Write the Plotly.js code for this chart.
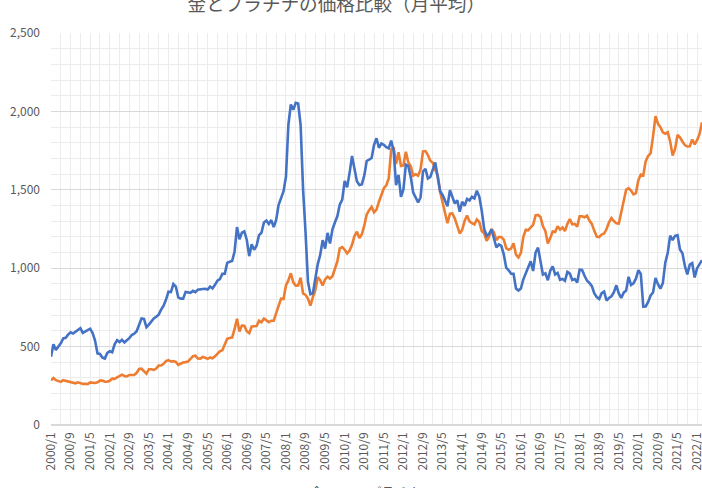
<!DOCTYPE html>
<html>
<head>
<meta charset="utf-8">
<script src="https://cdn.plot.ly/plotly-3.0.1.min.js"></script>
<style>
  html, body { margin: 0; padding: 0; background: #fff; }
  #chart { width: 702px; height: 488px; }
</style>
</head>
<body>
<div id="chart"></div>
<script>
/***** 金とプラチナの価格比較（月平均） *****/
var firstYear = 2000;
var monthCount = 267; // 2000/1 - 2022/3

var months = [];
for (var m = 0; m < monthCount; m++) {
  months.push((firstYear + Math.floor(m / 12)) + '/' + (m % 12 + 1));
}

// 金 (USD/oz)
var gold = [
  285, 300, 286, 280, 275, 286, 282, 275, 274, 270, 266, 272,        // 2000
  266, 262, 263, 261, 272, 270, 268, 272, 283, 283, 276, 276,        // 2001
  282, 296, 294, 303, 315, 321, 313, 310, 319, 317, 319, 333,        // 2002
  357, 359, 341, 328, 356, 356, 351, 360, 379, 379, 390, 408,        // 2003
  414, 405, 407, 403, 384, 392, 398, 401, 405, 421, 439, 442,        // 2004
  424, 423, 434, 429, 422, 431, 425, 438, 456, 470, 477, 510,        // 2005
  550, 555, 557, 611, 677, 596, 634, 633, 598, 586, 628, 630,        // 2006
  631, 665, 655, 679, 667, 656, 665, 665, 713, 755, 806, 803,        // 2007
  890, 922, 968, 910, 889, 890, 940, 839, 830, 807, 761, 816,        // 2008
  859, 943, 924, 890, 929, 946, 934, 949, 997, 1043, 1127, 1135,     // 2009
  1118, 1095, 1113, 1149, 1205, 1233, 1193, 1216, 1271, 1342, 1370, 1391, // 2010
  1356, 1373, 1424, 1474, 1510, 1529, 1573, 1756, 1772, 1665, 1739, 1652, // 2011
  1656, 1743, 1674, 1650, 1591, 1599, 1590, 1630, 1745, 1747, 1722, 1685, // 2012
  1672, 1628, 1593, 1488, 1414, 1343, 1287, 1347, 1349, 1317, 1276, 1222, // 2013
  1244, 1301, 1336, 1299, 1288, 1279, 1311, 1295, 1237, 1223, 1175, 1201, // 2014
  1251, 1227, 1179, 1199, 1199, 1182, 1128, 1118, 1125, 1159, 1086, 1068, // 2015
  1098, 1200, 1245, 1242, 1261, 1276, 1337, 1340, 1327, 1267, 1238, 1157, // 2016
  1192, 1234, 1231, 1267, 1246, 1260, 1237, 1283, 1314, 1280, 1282, 1265, // 2017
  1331, 1331, 1325, 1335, 1304, 1282, 1238, 1202, 1198, 1215, 1221, 1250, // 2018
  1292, 1320, 1301, 1286, 1284, 1359, 1413, 1500, 1511, 1495, 1471, 1479, // 2019
  1561, 1597, 1592, 1683, 1716, 1732, 1841, 1969, 1922, 1900, 1866, 1858, // 2020
  1867, 1808, 1718, 1760, 1850, 1835, 1808, 1785, 1776, 1777, 1821, 1790, // 2021
  1816, 1856, 1930                                                    // 2022
];

// プラチナ (USD/oz)
var platinum = [
  436, 515, 478, 497, 521, 552, 556, 576, 591, 583, 596, 605,        // 2000
  618, 587, 596, 607, 614, 586, 539, 456, 453, 430, 424, 460,        // 2001
  470, 464, 515, 541, 529, 543, 527, 541, 554, 574, 582, 598,        // 2002
  635, 680, 677, 624, 640, 663, 680, 690, 704, 735, 761, 800,        // 2003
  850, 848, 899, 883, 814, 806, 806, 849, 845, 843, 856, 847,        // 2004
  863, 863, 867, 869, 864, 883, 871, 894, 920, 930, 964, 965,        // 2005
  1034, 1041, 1046, 1105, 1262, 1185, 1226, 1235, 1180, 1077, 1152, 1118, // 2006
  1143, 1211, 1226, 1292, 1304, 1282, 1307, 1263, 1308, 1404, 1452, 1490, // 2007
  1583, 1915, 2044, 2010, 2054, 2050, 1912, 1501, 1230, 913, 834, 840,     // 2008
  933, 1026, 1085, 1179, 1125, 1225, 1158, 1248, 1291, 1331, 1406, 1437,  // 2009
  1557, 1516, 1608, 1716, 1634, 1555, 1530, 1534, 1590, 1684, 1693, 1703, // 2010
  1786, 1829, 1768, 1795, 1787, 1772, 1764, 1814, 1749, 1530, 1595, 1455, // 2011
  1502, 1660, 1651, 1581, 1482, 1449, 1420, 1451, 1617, 1634, 1572, 1582, // 2012
  1625, 1675, 1582, 1491, 1467, 1433, 1395, 1497, 1458, 1413, 1434, 1360, // 2013
  1424, 1397, 1442, 1432, 1455, 1445, 1494, 1457, 1366, 1250, 1206, 1219, // 2014
  1247, 1197, 1132, 1152, 1143, 1088, 1003, 987, 965, 964, 870, 857,      // 2015
  870, 929, 967, 997, 1044, 982, 1100, 1131, 1044, 959, 967, 923,         // 2016
  984, 1012, 960, 970, 926, 932, 920, 976, 965, 925, 931, 909,            // 2017
  991, 989, 952, 921, 906, 886, 839, 816, 804, 841, 851, 794,             // 2018
  810, 820, 847, 891, 839, 811, 844, 857, 945, 893, 903, 933,             // 2019
  988, 963, 755, 756, 785, 826, 845, 938, 898, 869, 905, 1035,            // 2020
  1098, 1208, 1179, 1206, 1211, 1119, 1096, 1015, 960, 1023, 1032, 941,   // 2021
  1000, 1030, 1052                                                         // 2022
];

var xIndex = months.map(function (m, i) { return i; });
var tickIdx = xIndex.filter(function (i) { return i % 8 === 0; });
var tickLabels = tickIdx.map(function (i) { return months[i]; });

var textGray = '#595959';
var cjk = '"Noto Sans CJK JP", "Noto Sans", sans-serif';

var goldLine = {
  x: xIndex,
  y: gold,
  type: 'scatter',
  mode: 'lines',
  name: '金',
  line: { color: '#ED7D31', width: 2.6 }
};

var platinumLine = {
  x: xIndex,
  y: platinum,
  type: 'scatter',
  mode: 'lines',
  name: 'プラチナ',
  line: { color: '#4472C4', width: 2.6 }
};

var layout = {
  width: 702,
  height: 488,
  margin: { l: 51, r: 0, t: 33, b: 63 },
  paper_bgcolor: '#fff',
  plot_bgcolor: '#fff',
  font: { family: cjk, color: textGray, size: 12 },
  title: {
    text: '金とプラチナの価格比較（月平均）',
    font: { family: cjk, size: 18.6, color: textGray },
    x: 0.479,
    xanchor: 'center',
    xref: 'container',
    y: 0.991,
    yanchor: 'middle',
    yref: 'container'
  },
  showlegend: true,
  legend: {
    orientation: 'h',
    xref: 'container',
    yref: 'container',
    x: 0.385,
    xanchor: 'left',
    y: 0.022,
    yanchor: 'top',
    font: { family: cjk, size: 13, color: textGray }
  },
  xaxis: {
    type: 'linear',
    range: [0, 266],
    automargin: false,
    tickmode: 'array',
    tickvals: tickIdx,
    ticktext: tickLabels,
    tickangle: -90,
    ticks: '',
    ticklabelstandoff: 4,
    ticklabeloverflow: 'allow',
    tickfont: { family: cjk, size: 12, color: textGray },
    showgrid: true,
    gridcolor: '#ececec',
    gridwidth: 1,
    minor: { tickmode: 'linear', tick0: 0, dtick: 4, showgrid: true, gridcolor: '#ececec', gridwidth: 1 },
    zeroline: false,
    showline: false
  },
  yaxis: {
    range: [0, 2500],
    automargin: false,
    tickmode: 'linear',
    tick0: 0,
    dtick: 500,
    tickformat: ',d',
    ticks: '',
    ticklabelstandoff: 10,
    tickfont: { family: cjk, size: 12, color: textGray },
    showgrid: true,
    gridcolor: '#d9d9d9',
    gridwidth: 1,
    minor: { tickmode: 'linear', tick0: 0, dtick: 100, showgrid: true, gridcolor: '#ececec', gridwidth: 1 },
    zeroline: true,
    zerolinecolor: '#d9d9d9',
    zerolinewidth: 1.3,
    showline: false
  }
};

var config = { staticPlot: true, displayModeBar: false };

Plotly.newPlot('chart', [goldLine, platinumLine], layout, config);
</script>
</body>
</html>
